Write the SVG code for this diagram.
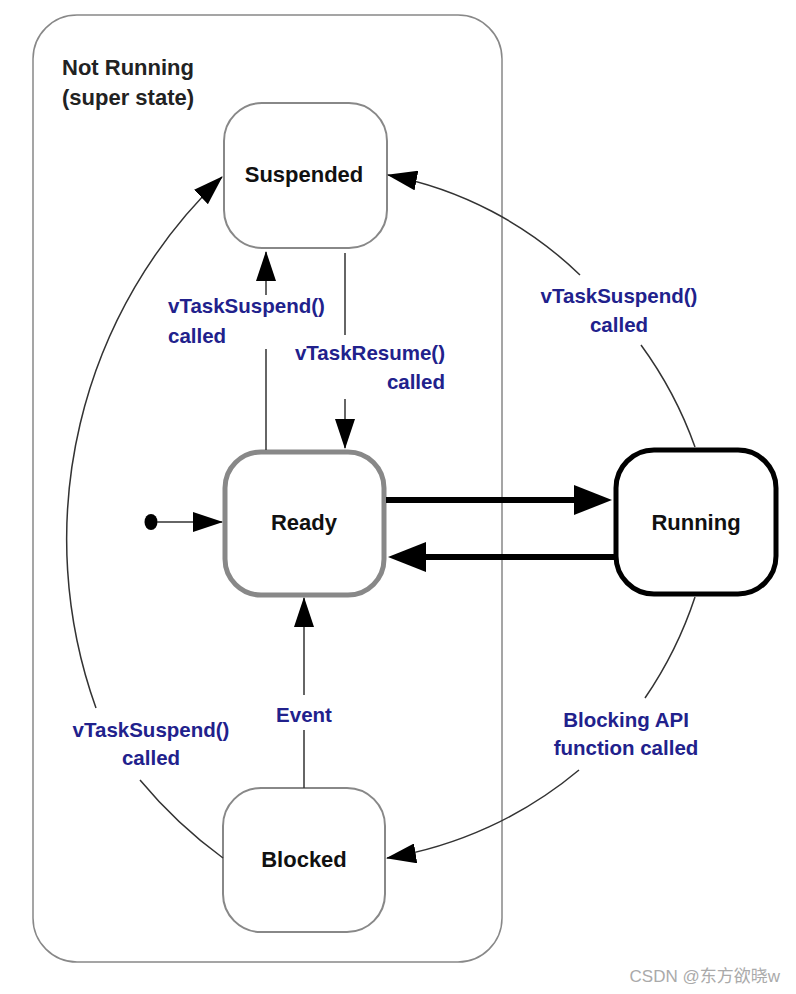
<svg xmlns="http://www.w3.org/2000/svg" width="796" height="994" viewBox="0 0 796 994">
<style>
.node{fill:#fff;stroke:#888;stroke-width:2}
.ntext{font-family:"Liberation Sans",Arial,sans-serif;font-weight:bold;font-size:22px;fill:#111;text-anchor:middle}
.lbl{font-family:"Liberation Sans",Arial,sans-serif;font-weight:bold;font-size:20.5px;fill:#21218c}
.c{fill:none;stroke:#333;stroke-width:1.5}
.thick{fill:none;stroke:#000;stroke-width:6}
</style>
<defs>
<marker id="arr" markerUnits="userSpaceOnUse" markerWidth="30" markerHeight="20" refX="29" refY="10" orient="auto" viewBox="0 0 30 20"><path d="M0,0 L30,10 L0,20 z" fill="#000"/></marker>
<marker id="arrB" markerUnits="userSpaceOnUse" markerWidth="38" markerHeight="30" refX="28" refY="15" orient="auto" viewBox="0 0 38 30"><path d="M0,0 L38,15 L0,30 z" fill="#000"/></marker>
</defs>
<rect width="796" height="994" fill="#fff"/>
<g id="notRunning">
<rect x="33" y="15" width="469" height="947" rx="44" fill="none" stroke="#888" stroke-width="1.5"/>
<text x="62" y="75" class="ntext" style="text-anchor:start;fill:#222">Not Running</text>
<text x="62" y="105" class="ntext" style="text-anchor:start;fill:#222">(super state)</text>
</g>
<g id="suspended">
<rect x="224" y="103" width="163" height="145" rx="38" class="node"/>
<text x="304" y="182" class="ntext">Suspended</text>
</g>
<g id="ready">
<rect x="225" y="452" width="159" height="143" rx="36" class="node" style="stroke-width:5"/>
<text x="304" y="530" class="ntext">Ready</text>
</g>
<g id="running">
<rect x="616" y="450" width="160" height="144" rx="38" class="node" style="stroke:#000;stroke-width:5"/>
<text x="696" y="530" class="ntext">Running</text>
</g>
<g id="blocked">
<rect x="223" y="788" width="162" height="144" rx="38" class="node"/>
<text x="304" y="867" class="ntext">Blocked</text>
</g>
<g id="initial">
<ellipse cx="151" cy="522" rx="6.5" ry="8" fill="#000"/>
</g>
<g id="connectors">
<path class="c" d="M157,522 L222,522" marker-end="url(#arr)"/>
<path class="c" d="M266,450 L266,349"/>
<path class="c" d="M266,295 L266,252" marker-end="url(#arr)"/>
<path class="c" d="M345,253 L345,335"/>
<path class="c" d="M345,399 L345,448" marker-end="url(#arr)"/>
<path class="thick" d="M386,500 L602,500" marker-end="url(#arrB)"/>
<path class="thick" d="M614,557 L398,557" marker-end="url(#arrB)"/>
<path class="c" d="M304,788 L304,730"/>
<path class="c" d="M304,695 L304,598" marker-end="url(#arr)"/>
<path class="c" d="M695,447 A400,400 0 0 0 641,345"/>
<path class="c" d="M580,275 A380,380 0 0 0 388,175" marker-end="url(#arr)"/>
<path class="c" d="M695,597 A400,400 0 0 1 645,698"/>
<path class="c" d="M579,770 A400,400 0 0 1 387,858" marker-end="url(#arr)"/>
<path class="c" d="M223,858 A462,462 0 0 1 140,780"/>
<path class="c" d="M96,708 A500,500 0 0 1 222,177" marker-end="url(#arr)"/>
</g>
<g id="labels">
<text x="168" y="313" class="lbl">vTaskSuspend()</text>
<text x="168" y="343" class="lbl">called</text>
<text x="445" y="360" class="lbl" text-anchor="end">vTaskResume()</text>
<text x="445" y="389" class="lbl" text-anchor="end">called</text>
<text x="619" y="303" class="lbl" text-anchor="middle">vTaskSuspend()</text>
<text x="619" y="332" class="lbl" text-anchor="middle">called</text>
<text x="151" y="737" class="lbl" text-anchor="middle">vTaskSuspend()</text>
<text x="151" y="765" class="lbl" text-anchor="middle">called</text>
<text x="304" y="722" class="lbl" text-anchor="middle">Event</text>
<text x="626" y="727" class="lbl" text-anchor="middle">Blocking API</text>
<text x="626" y="755" class="lbl" text-anchor="middle">function called</text>
</g>
<text x="780" y="982" text-anchor="end" font-family="'Liberation Sans','Noto Sans CJK SC',sans-serif" font-size="17" fill="#aaa">CSDN @东方欲晓w</text>
</svg>
